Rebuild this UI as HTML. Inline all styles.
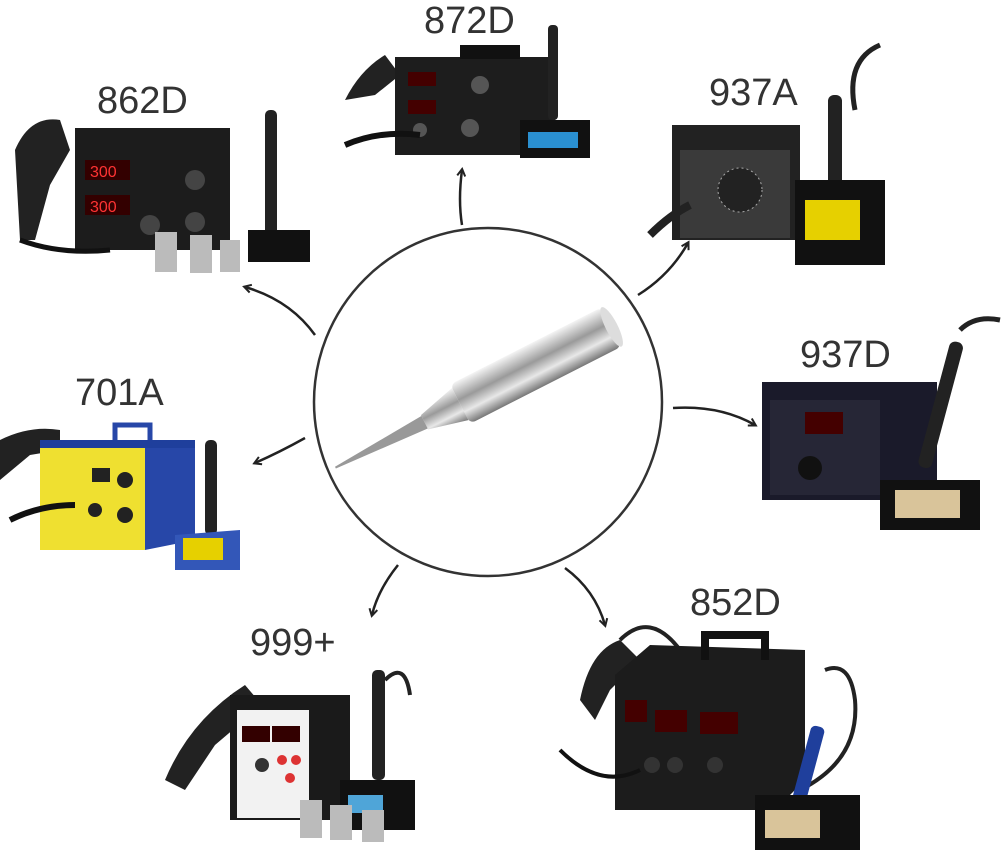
<!DOCTYPE html>
<html><head><meta charset="utf-8"><style>
html,body{margin:0;padding:0;background:#fff;}
svg{display:block}
text{font-family:"Liberation Sans",sans-serif;font-size:38px;fill:#333;}
</style></head><body>
<svg width="1001" height="864" viewBox="0 0 1001 864" xmlns="http://www.w3.org/2000/svg">
<defs>
<linearGradient id="tip" x1="0" y1="0" x2="0" y2="1">
<stop offset="0" stop-color="#f4f4f4"/><stop offset="0.4" stop-color="#9a9a9a"/><stop offset="0.7" stop-color="#e8e8e8"/><stop offset="1" stop-color="#777"/></linearGradient>
<marker id="ah" markerWidth="10" markerHeight="10" refX="7" refY="5" orient="auto" markerUnits="userSpaceOnUse">
<path d="M1,1 L8,5 L1,9" fill="none" stroke="#222" stroke-width="2"/></marker>
</defs>

<!-- center circle -->
<circle cx="488" cy="402" r="174" fill="#fff" stroke="#333" stroke-width="2.5"/>
<g transform="translate(478,395) rotate(-27)">
<rect x="-20" y="-22" width="170" height="44" rx="6" fill="url(#tip)"/>
<path d="M-20,-18 L-60,-8 L-60,8 L-20,18 Z" fill="url(#tip)"/>
<path d="M-60,-7 L-160,-1 L-160,1 L-60,7 Z" fill="#999"/>
<ellipse cx="150" cy="0" rx="6" ry="22" fill="#ddd"/>
</g>

<!-- arrows -->
<g fill="none" stroke="#222" stroke-width="2.5" marker-end="url(#ah)">
<path d="M462,225 Q458,200 462,170"/>
<path d="M315,335 Q290,300 245,287"/>
<path d="M638,295 Q670,275 688,243"/>
<path d="M673,408 Q720,405 755,425"/>
<path d="M305,438 Q280,452 255,463"/>
<path d="M398,565 Q378,590 372,615"/>
<path d="M565,568 Q595,590 605,625"/>
</g>

<!-- labels -->
<text x="424" y="33">872D</text>
<text x="97" y="113">862D</text>
<text x="709" y="105">937A</text>
<text x="800" y="367">937D</text>
<text x="75" y="405">701A</text>
<text x="250" y="655">999+</text>
<text x="690" y="615">852D</text>

<!-- 862D -->
<g>
<path d="M15,150 Q30,115 60,120 L70,150 L50,185 L35,240 L20,240 Z" fill="#222"/>
<rect x="75" y="128" width="155" height="122" fill="#1c1c1c"/>
<rect x="85" y="160" width="45" height="20" fill="#300"/><text x="90" y="177" style="font-size:16px;fill:#f33">300</text>
<rect x="85" y="195" width="45" height="20" fill="#300"/><text x="90" y="212" style="font-size:16px;fill:#f33">300</text>
<circle cx="195" cy="180" r="10" fill="#444"/><circle cx="195" cy="222" r="10" fill="#444"/><circle cx="150" cy="225" r="10" fill="#444"/>
<rect x="155" y="232" width="22" height="40" fill="#bbb"/><rect x="190" y="235" width="22" height="38" fill="#bbb"/><rect x="220" y="240" width="20" height="32" fill="#bbb"/>
<rect x="265" y="110" width="12" height="130" rx="5" fill="#222"/>
<rect x="248" y="230" width="62" height="32" fill="#111"/>
<path d="M20,240 Q60,255 110,250" stroke="#111" stroke-width="5" fill="none"/>
</g>

<!-- 872D -->
<g>
<path d="M345,100 Q360,70 385,55 L400,75 L375,95 Z" fill="#222"/>
<rect x="395" y="57" width="160" height="98" fill="#1d1d1d"/>
<rect x="460" y="45" width="60" height="14" fill="#111"/>
<rect x="408" y="72" width="28" height="14" fill="#400"/><rect x="408" y="100" width="28" height="14" fill="#400"/>
<circle cx="480" cy="85" r="9" fill="#555"/><circle cx="470" cy="128" r="9" fill="#555"/><circle cx="420" cy="130" r="7" fill="#555"/>
<path d="M345,145 Q380,130 420,135" stroke="#111" stroke-width="6" fill="none"/>
<rect x="548" y="25" width="10" height="95" rx="4" fill="#222"/>
<rect x="520" y="120" width="70" height="38" fill="#111"/><rect x="528" y="132" width="50" height="16" fill="#2a8fd0"/>
</g>

<!-- 937A -->
<g>
<rect x="672" y="125" width="128" height="115" fill="#222"/>
<rect x="680" y="150" width="110" height="88" fill="#3a3a3a"/>
<circle cx="740" cy="190" r="22" fill="#222" stroke="#aaa" stroke-dasharray="2,3"/>
<path d="M650,235 Q670,215 690,205" stroke="#222" stroke-width="8" fill="none"/>
<path d="M855,110 Q845,60 880,45" stroke="#222" stroke-width="5" fill="none"/>
<rect x="828" y="95" width="14" height="120" rx="6" fill="#222"/>
<rect x="795" y="180" width="90" height="85" fill="#111"/><rect x="805" y="200" width="55" height="40" fill="#e6d000"/>
</g>

<!-- 937D -->
<g>
<rect x="762" y="382" width="175" height="118" fill="#1a1a2a"/>
<rect x="770" y="400" width="110" height="95" fill="#262636"/>
<rect x="805" y="412" width="38" height="22" fill="#400"/>
<circle cx="810" cy="468" r="12" fill="#111"/>
<path d="M960,330 Q975,315 1000,320" stroke="#222" stroke-width="5" fill="none"/>
<rect x="935" y="340" width="14" height="130" rx="6" fill="#222" transform="rotate(15 942 400)"/>
<rect x="880" y="480" width="100" height="50" fill="#111"/><rect x="895" y="490" width="65" height="28" fill="#d9c49a"/>
</g>

<!-- 701A -->
<g>
<path d="M0,440 Q30,425 60,430 L60,450 L30,455 L0,480 Z" fill="#222"/>
<rect x="40" y="445" width="105" height="105" fill="#efe030"/>
<path d="M145,445 L195,440 L195,540 L145,550 Z" fill="#2747a8"/>
<rect x="40" y="440" width="155" height="8" fill="#1f3f9c"/>
<path d="M115,440 L115,425 L150,425 L150,440" stroke="#2747a8" stroke-width="5" fill="none"/>
<rect x="92" y="468" width="18" height="14" fill="#222"/>
<circle cx="125" cy="480" r="8" fill="#222"/><circle cx="125" cy="515" r="8" fill="#222"/><circle cx="95" cy="510" r="7" fill="#222"/>
<path d="M10,520 Q40,505 75,505" stroke="#111" stroke-width="6" fill="none"/>
<rect x="205" y="440" width="12" height="95" rx="5" fill="#222"/>
<path d="M175,535 L240,530 L240,570 L175,570 Z" fill="#3357b8"/><rect x="183" y="538" width="40" height="22" fill="#e6d000"/>
</g>

<!-- 999+ -->
<g>
<path d="M165,780 Q190,720 245,685 L262,705 L215,745 L185,790 Z" fill="#222"/>
<rect x="230" y="695" width="120" height="125" fill="#1a1a1a"/>
<rect x="237" y="710" width="72" height="108" fill="#f2f2f2"/>
<rect x="242" y="726" width="28" height="16" fill="#300"/><rect x="272" y="726" width="28" height="16" fill="#300"/>
<circle cx="262" cy="765" r="7" fill="#333"/><circle cx="282" cy="760" r="5" fill="#d33"/><circle cx="296" cy="760" r="5" fill="#d33"/><circle cx="290" cy="778" r="5" fill="#d33"/>
<path d="M385,680 Q405,660 410,695" stroke="#222" stroke-width="4" fill="none"/>
<rect x="372" y="670" width="13" height="110" rx="5" fill="#222"/>
<rect x="340" y="780" width="75" height="50" fill="#111"/><rect x="348" y="795" width="35" height="18" fill="#4fa5d8"/>
<rect x="300" y="800" width="22" height="38" fill="#bbb"/><rect x="330" y="805" width="22" height="35" fill="#bbb"/><rect x="362" y="810" width="22" height="32" fill="#bbb"/>
</g>

<!-- 852D -->
<g>
<path d="M580,700 Q590,650 620,640 L640,660 L610,690 L595,720 Z" fill="#222"/>
<path d="M620,640 Q650,610 680,650" stroke="#222" stroke-width="4" fill="none"/>
<path d="M615,675 L650,645 L805,650 L805,780 L775,810 L615,810 Z" fill="#1c1c1c"/>
<path d="M705,660 L705,635 L765,635 L765,660" stroke="#111" stroke-width="8" fill="none"/>
<rect x="625" y="700" width="22" height="22" fill="#400"/><rect x="655" y="710" width="32" height="22" fill="#400"/><rect x="700" y="712" width="38" height="22" fill="#400"/>
<circle cx="652" cy="765" r="8" fill="#333"/><circle cx="675" cy="765" r="8" fill="#333"/><circle cx="715" cy="765" r="8" fill="#333"/>
<path d="M560,750 Q600,790 640,770" stroke="#111" stroke-width="4" fill="none"/>
<path d="M825,670 Q850,660 855,700 Q860,760 800,790" stroke="#222" stroke-width="4" fill="none"/>
<rect x="800" y="725" width="14" height="90" rx="5" fill="#1f3f9c" transform="rotate(15 807 770)"/>
<rect x="755" y="795" width="105" height="55" fill="#111"/><rect x="765" y="810" width="55" height="28" fill="#d9c49a"/>
</g>
</svg>
</body></html>
